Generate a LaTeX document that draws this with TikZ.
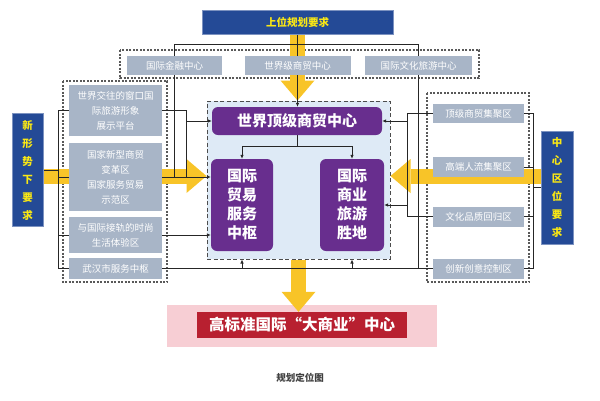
\documentclass[tikz,border=0pt]{standalone}
\usepackage{fontspec}
\setmainfont{Noto Sans CJK SC}
\usetikzlibrary{arrows.meta,positioning}
\definecolor{planblue}{RGB}{36,74,150}
\definecolor{planyellow}{RGB}{250,232,20}
\definecolor{flowyellow}{RGB}{248,196,40}
\definecolor{zonegray}{RGB}{168,181,199}
\definecolor{corepurple}{RGB}{104,46,142}
\definecolor{coreblue}{RGB}{222,234,246}
\definecolor{goalred}{RGB}{184,32,48}
\definecolor{goalpink}{RGB}{247,206,212}
\pgfdeclarelayer{back}
\pgfdeclarelayer{mid}
\pgfsetlayers{back,mid,main}

\begin{document}
\begin{tikzpicture}[
  x=1pt, y=-1pt,
  reqbox/.style={fill=planblue, draw=planblue!60!white, text=planyellow, align=center, inner sep=0pt,
    font=\fontsize{10.5}{18}\selectfont\bfseries},
  zone/.style={fill=zonegray, text=white, align=center, inner sep=0pt,
    font=\fontsize{9.5}{15}\selectfont},
  core/.style={fill=corepurple, rounded corners=6pt, text=white, align=center, inner sep=0pt,
    font=\fontsize{15}{19}\selectfont\bfseries},
  groupframe/.style={draw=black!65, line width=1.1pt, dash pattern=on 2pt off 1.5pt},
  link/.style={draw=black!85, line width=0.7pt},
  linkarrow/.style={link, -{Latex[length=4pt,width=3.5pt]}},
  bigflow/.style={draw=flowyellow, line width=15pt, -{Triangle[length=20pt,width=34pt,line width=0pt]}}
]
\useasboundingbox (0,0) rectangle (600,400);

% 上位要求
\node[reqbox, minimum width=191pt, minimum height=24pt] (shangwei) at (297.5,22) {上位规划要求};
\node[zone, minimum width=95pt, minimum height=19pt] (jinrong) at (174.5,65.5) {国际金融中心};
\node[zone, minimum width=106pt, minimum height=19pt] (shangmao) at (297.5,65.5) {世界级商贸中心};
\node[zone, minimum width=107pt, minimum height=19pt] (wenlv) at (418.5,65.5) {国际文化旅游中心};

% 新形势
\node[reqbox, minimum width=31pt, minimum height=113pt] (xingshi) at (27.5,170) {新\\形\\势\\下\\要\\求};
\node[zone, minimum width=93pt, minimum height=51pt] (chuangkou) at (115.5,110.5) {世界交往的窗口国\\际旅游形象\\展示平台};
\node[zone, minimum width=93pt, minimum height=68pt] (biange) at (115.5,177) {国家新型商贸\\变革区\\国家服务贸易\\示范区};
\node[zone, minimum width=93pt, minimum height=36pt] (shishang) at (115.5,235) {与国际接轨的时尚\\生活体验区};
\node[zone, minimum width=93pt, minimum height=21pt] (wuhan) at (115.5,268.5) {武汉市服务中枢};

% 中心区位
\node[reqbox, minimum width=32pt, minimum height=113pt] (quwei) at (557,187.5) {中\\心\\区\\位\\要\\求};
\node[zone, minimum width=91pt, minimum height=19pt] (jiju) at (478.5,113.5) {顶级商贸集聚区};
\node[zone, minimum width=91pt, minimum height=20pt] (renliu) at (478.5,167) {高端人流集聚区};
\node[zone, minimum width=91pt, minimum height=20pt] (huigui) at (478.5,216.5) {文化品质回归区};
\node[zone, minimum width=91pt, minimum height=20pt] (chuangxin) at (478.5,268.5) {创新创意控制区};

% 核心定位
\node[core, minimum width=170pt, minimum height=28pt] (dingji) at (297,121) {世界顶级商贸中心};
\node[core, minimum width=62pt, minimum height=92pt] (maoyi) at (242,205) {国际\\贸易\\服务\\中枢};
\node[core, minimum width=64pt, minimum height=92pt] (lvyou) at (352,205) {国际\\商业\\旅游\\胜地};

% 目标
\node[fill=goalred, text=white, inner sep=0pt, minimum width=210pt, minimum height=26pt,
  font=\fontsize{15.5}{18}\selectfont\bfseries] (dashangye) at (302,325) {高标准国际“大商业”中心};
\node[text=black!75, font=\fontsize{9.5}{12}\selectfont\bfseries] (tuming) at (300,378) {规划定位图};

\begin{pgfonlayer}{back}
  \node[draw=black!70, line width=1pt, dash pattern=on 4pt off 2.5pt, fill=coreblue,
    minimum width=183pt, minimum height=158pt] (hexin) at (298.5,180) {};
  \draw[groupframe] (120,50) rectangle (479,78);
  \draw[groupframe] (63,81) rectangle (167,282);
  \draw[groupframe] (427,93) rectangle (529,282);
  \fill[goalpink] (167,305) rectangle (437,347);
\end{pgfonlayer}

\begin{pgfonlayer}{mid}
  % 黄色箭头
  \coordinate (flowy) at (0,176);
  \draw[bigflow] (shangwei.south) -- (shangwei.south |- hexin.north);
  \draw[bigflow] (xingshi.east |- flowy) -- (hexin.west |- flowy);
  \draw[bigflow] (quwei.west |- flowy) -- (hexin.east |- flowy);
  \draw[bigflow] (hexin.south) -- (hexin.south |- dashangye.north);

  % 连线
  \coordinate (busy) at (0,44);
  \coordinate (forky) at (0,146);
  \coordinate (leftbar) at (58,0);
  \coordinate (leftcol) at (186,0);
  \coordinate (rightcol) at (407,0);
  \coordinate (rightbar) at (533,0);
  \draw[linkarrow] (shangwei.south) -- (shangwei.south |- dingji.north);
  \draw[link] (jinrong |- busy) -- (wenlv |- busy);
  \draw[link] (jinrong |- busy) -- (jinrong |- biange);
  \draw[link] (wenlv |- busy) -- (wenlv |- wuhan);
  \draw[linkarrow] (dingji.south) -- (dingji |- forky) -| (maoyi.north);
  \draw[linkarrow] (dingji |- forky) -| (lvyou.north);
  \draw[linkarrow] (chuangkou.east) -| (leftcol |- dingji) -- (dingji.west);
  \draw[link] (leftcol |- dingji) -- (leftcol |- biange);
  \draw[linkarrow] (biange.east) -- (maoyi.west |- biange);
  \draw[linkarrow] (shishang.east) -- (maoyi.west |- shishang);
  \draw[link] (wuhan.east) -- (chuangxin.west);
  \draw[linkarrow] (maoyi |- wuhan) -- (maoyi |- hexin.south);
  \draw[linkarrow] (lvyou |- wuhan) -- (lvyou |- hexin.south);
  \draw[link] (jiju.west) -| (rightcol |- huigui) -- (huigui.west);
  \draw[linkarrow] (rightcol |- dingji) -- (dingji.east);
  \draw[linkarrow] (rightcol |- lvyou) -- (lvyou.east);
  \draw[link] (chuangkou.west) -| (leftbar |- wuhan) -- (wuhan.west);
  \draw[link] (biange.west) -- (leftbar |- biange);
  \draw[link] (shishang.west) -- (leftbar |- shishang);
  \draw[link] (xingshi.east) -- (leftbar |- xingshi);
  \draw[link] (jiju.east) -| (rightbar |- chuangxin) -- (chuangxin.east);
  \draw[link] (renliu.east) -- (rightbar |- renliu);
  \draw[link] (huigui.east) -- (rightbar |- huigui);
  \draw[link] (quwei.west) -- (rightbar |- quwei);
\end{pgfonlayer}

\end{tikzpicture}
\end{document}
